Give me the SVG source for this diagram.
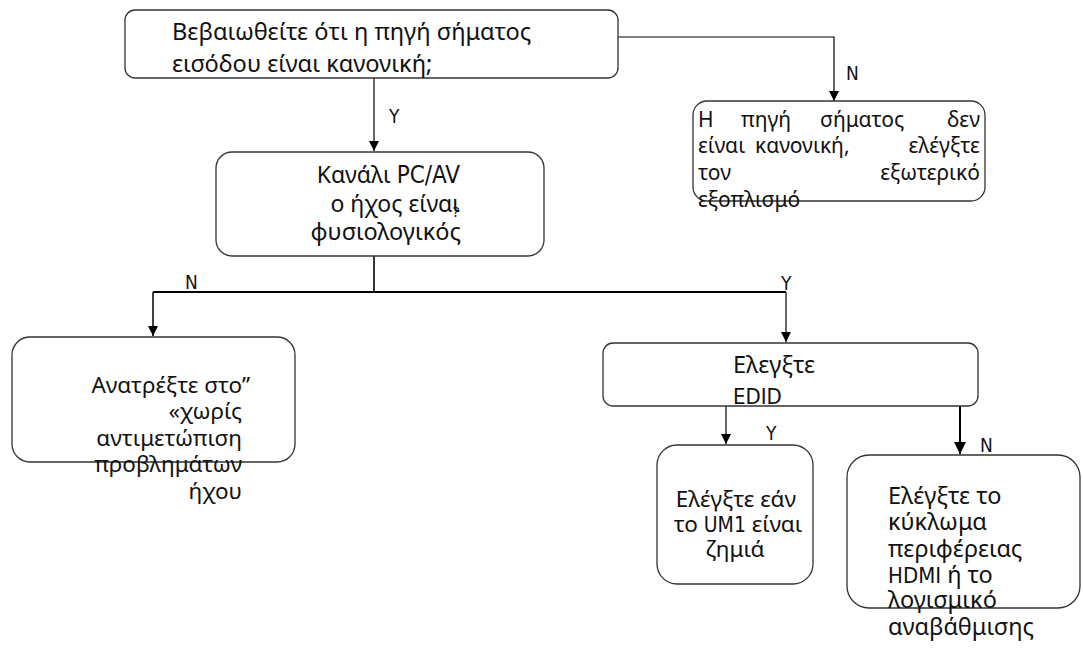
<svg xmlns="http://www.w3.org/2000/svg" width="1083" height="657" viewBox="0 0 1083 657">
<defs>
<style>
.box{fill:#fff;stroke:#333;stroke-width:1.3}
.t{font-family:"Noto Sans","DejaVu Sans",sans-serif;font-size:22px;fill:#111}
.cond{font-family:"DejaVu Sans Condensed","DejaVu Sans","Liberation Sans",sans-serif;font-stretch:condensed}
.lbl{font-family:"DejaVu Sans Condensed","DejaVu Sans","Liberation Sans",sans-serif;font-stretch:condensed;font-size:19px;fill:#111}
.c{fill:none;stroke:#000;stroke-width:1.2}
</style>
<marker id="arr" viewBox="0 0 10 10" refX="10" refY="5" markerWidth="10" markerHeight="10" markerUnits="userSpaceOnUse" orient="auto">
<path d="M0,0 L10,5 L0,10 Z" fill="#000"/>
</marker>
<marker id="arr2" viewBox="0 0 10 10" refX="10" refY="5" markerWidth="12" markerHeight="12" markerUnits="userSpaceOnUse" orient="auto">
<path d="M0,0 L10,5 L0,10 Z" fill="#000"/>
</marker>
</defs>
<rect width="1083" height="657" fill="#fff"/>

<g id="connectors">
<path class="c" d="M374,78 V151" marker-end="url(#arr)"/>
<path class="c" d="M618,37 H834 V101" marker-end="url(#arr)"/>
<path class="c" style="stroke-width:1.6" d="M374,256 V292"/>
<path class="c" style="stroke-width:2" d="M153,292 H786"/>
<path class="c" style="stroke-width:1.5" d="M153,292 V336" marker-end="url(#arr)"/>
<path class="c" d="M786,292 V342" marker-end="url(#arr)"/>
<path class="c" d="M726,406 V444" marker-end="url(#arr)"/>
<path class="c" style="stroke-width:2" d="M960,406 V454" marker-end="url(#arr2)"/>
<text class="lbl" x="389" y="123">Y</text>
<text class="lbl" x="846" y="80">N</text>
<text class="lbl" x="185" y="289">N</text>
<text class="lbl" x="781" y="290">Y</text>
<text class="lbl" x="766" y="440">Y</text>
<text class="lbl" x="980" y="452">N</text>
</g>

<g id="n1">
<rect class="box" x="125" y="10" width="493" height="68" rx="10"/>
<text class="t" style="font-size:23.6px" x="172" y="40">Βεβαιωθείτε ότι η πηγή σήματος</text>
<text class="t" style="font-size:23.6px" x="172" y="72">εισόδου είναι κανονική;</text>
</g>

<g id="n2">
<rect class="box" x="216" y="152" width="328" height="104" rx="16"/>
<text class="t" style="font-size:23px" text-anchor="end" x="460" y="183">Κανάλι <tspan class="cond" style="font-size:24px">PC/AV</tspan></text>
<text class="t" style="font-size:23px" text-anchor="end" x="460" y="212">ο ήχος είναι</text>
<text class="t" style="font-size:15px" text-anchor="middle" x="456" y="217">?</text>
<text class="t" style="font-size:23.5px" text-anchor="end" x="461" y="240">φυσιολογικός</text>
</g>

<g id="n3" style="font-size:21px">
<rect class="box" x="693" y="101" width="292" height="100" rx="14"/>
<text class="t" style="font-size:21px" x="698" y="127">Η</text>
<text class="t" style="font-size:21px" x="741" y="127">πηγή</text>
<text class="t" style="font-size:21px" x="820" y="127">σήματος</text>
<text class="t" style="font-size:21px" text-anchor="end" x="980" y="127">δεν</text>
<text class="t" style="font-size:21px" x="698" y="153">είναι</text>
<text class="t" style="font-size:21px" x="755" y="153">κανονική,</text>
<text class="t" style="font-size:21px" text-anchor="end" x="980" y="153">ελέγξτε</text>
<text class="t" style="font-size:21px" x="698" y="180">τον</text>
<text class="t" style="font-size:21px" text-anchor="end" x="980" y="180">εξωτερικό</text>
<text class="t" style="font-size:21px" x="698" y="207">εξοπλισμό</text>
</g>

<g id="n4">
<rect class="box" x="12" y="337" width="283" height="125" rx="18"/>
<text class="t" style="font-size:22.5px" text-anchor="end" x="250" y="393">Ανατρέξτε στο”</text>
<text class="t" style="font-size:22.5px" text-anchor="end" x="242" y="419">«χωρίς</text>
<text class="t" style="font-size:22.5px" text-anchor="end" x="242" y="446">αντιμετώπιση</text>
<text class="t" style="font-size:22.5px" text-anchor="end" x="242" y="472">προβλημάτων</text>
<text class="t" style="font-size:22.5px" text-anchor="end" x="242" y="499">ήχου</text>
</g>

<g id="n5">
<rect class="box" x="603" y="343" width="375" height="63" rx="10"/>
<text class="t" style="font-size:23.5px" x="733" y="373">Ελεγξτε</text>
<text class="t cond" style="font-size:22px" x="733" y="404">EDID</text>
</g>

<g id="n6">
<rect class="box" x="657" y="445" width="156" height="139" rx="20"/>
<text class="t" style="font-size:22.5px" text-anchor="middle" x="736" y="507">Ελέγξτε εάν</text>
<text class="t" style="font-size:22.5px" text-anchor="middle" x="738" y="532">το <tspan class="cond" style="font-size:21px">UM1</tspan> είναι</text>
<text class="t" style="font-size:22.5px" text-anchor="middle" x="735" y="557">ζημιά</text>
</g>

<g id="n7">
<rect class="box" x="847" y="455" width="233" height="153" rx="22"/>
<text class="t" style="font-size:23.5px" x="888" y="504">Ελέγξτε το</text>
<text class="t" style="font-size:23.5px" x="888" y="530">κύκλωμα</text>
<text class="t" style="font-size:23.5px" x="888" y="557">περιφέρειας</text>
<text class="t" style="font-size:23.5px" x="888" y="583"><tspan class="cond" style="font-size:22px">HDMI</tspan> ή το</text>
<text class="t" style="font-size:23.5px" x="888" y="608">λογισμικό</text>
<text class="t" style="font-size:23.5px" x="888" y="635">αναβάθμισης</text>
</g>
</svg>
